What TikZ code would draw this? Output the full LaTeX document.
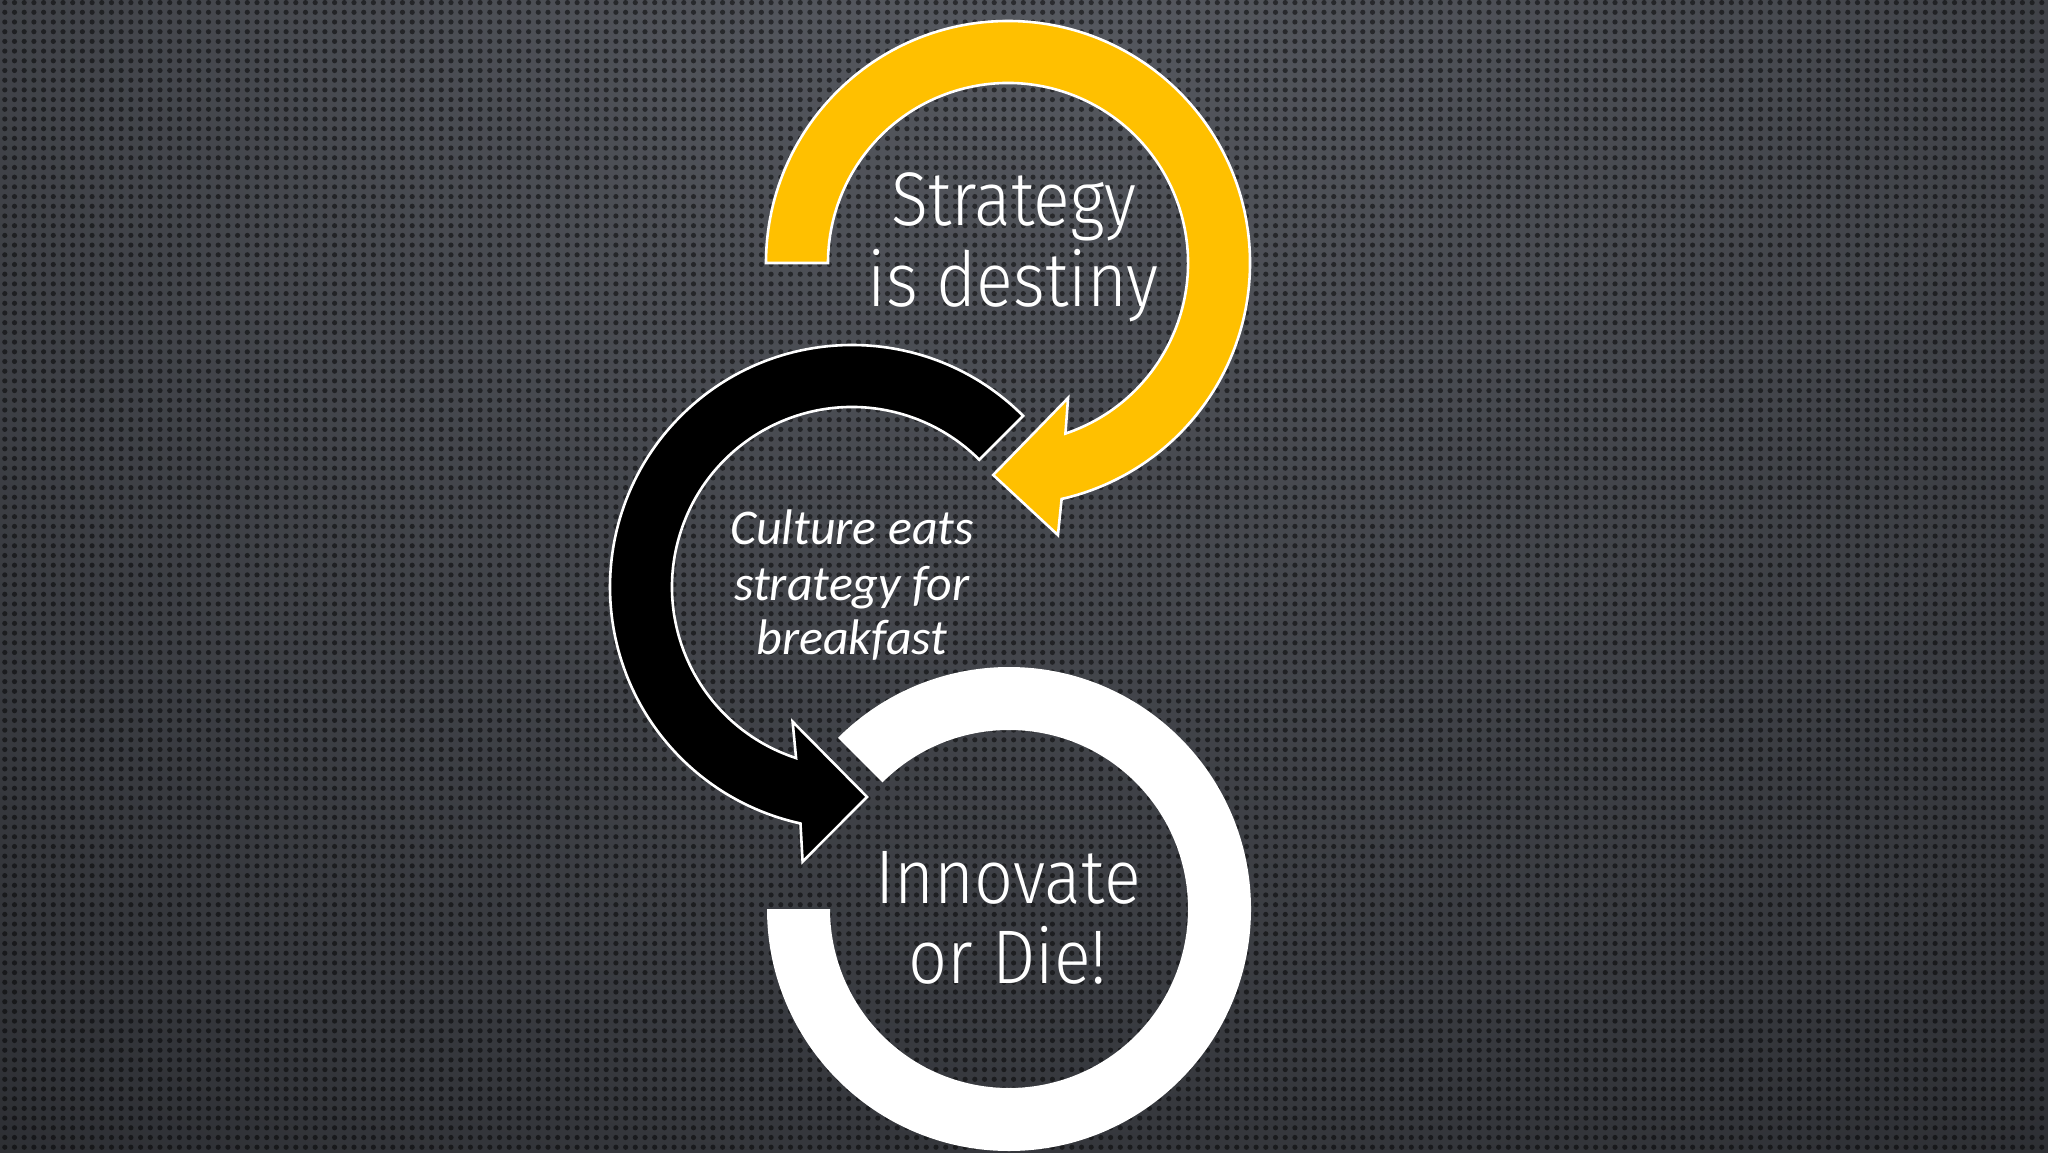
\documentclass[tikz,border=0pt]{standalone}
\usepackage{fontspec}
\setmainfont{Carlito}
\newfontfamily\lightfont[FakeStretch=0.9]{Fira Sans Light}
\newfontfamily\culturefont{Carlito}
\usetikzlibrary{patterns}
\pgfdeclarepatternformonly{bgdots}{\pgfqpoint{-1pt}{-1pt}}{\pgfqpoint{6pt}{6pt}}{\pgfqpoint{4.85pt}{4.85pt}}{\pgfpathcircle{\pgfqpoint{2.4pt}{2.4pt}}{1.3pt}\pgfusepath{fill}}
\definecolor{gold}{RGB}{255,192,0}
\definecolor{bgtop}{RGB}{88,91,98}
\definecolor{bgbot}{RGB}{18,19,22}
\tikzset{
  bigtext/.style={text=white, inner sep=0pt, anchor=base, font=\lightfont\fontsize{38}{40}\selectfont},
  culturetext/.style={text=white, inner sep=0pt, anchor=base, font=\culturefont\itshape\fontsize{25}{27}\selectfont},
  arrowband/.style={draw=white, line width=1.3pt, line join=miter},
}
\begin{document}
\begin{tikzpicture}[x=0.5pt,y=0.5pt]
\useasboundingbox (0,0) rectangle (2048,1152);
\begin{scope}
  \clip (0,0) rectangle (2048,1152);
  \fill[bgbot] (0,0) rectangle (2048,1152);
  \shade[inner color=bgtop, outer color=bgbot] (1024,1250) ellipse (3000 and 2500);
  \fill[pattern=bgdots, pattern color=black, fill opacity=0.5] (0,0) rectangle (2048,1152);
\end{scope}

% centres
\coordinate (yc) at (1008,889);
\coordinate (bc) at (852,565);
\coordinate (wc) at (1009,243);

% white ring
\fill[white] ([shift={(180:242)}]wc) arc[start angle=180, end angle=495, radius=242]
  -- ([shift={(135:179)}]wc) arc[start angle=495, end angle=180, radius=179] -- cycle;

% black arrow
\draw[arrowband, fill=black] ([shift={(45:242)}]bc) arc[start angle=45, end angle=257.7, radius=242]
  -- ([shift={(259.8:279)}]bc) -- ([shift={(274.1:210.5)}]bc) -- ([shift={(246.2:147.2)}]bc)
  -- ([shift={(251.9:180)}]bc) arc[start angle=251.9, end angle=45, radius=180] -- cycle;

% yellow arrow
\draw[arrowband, fill=gold] ([shift={(180:242)}]yc) arc[start angle=180, end angle=-77.2, radius=242]
  -- ([shift={(-79.6:276.6)}]yc) -- ([shift={(-94:212.5)}]yc) -- ([shift={(-66:147.7)}]yc)
  -- ([shift={(-71.4:180)}]yc) arc[start angle=-71.4, end angle=180, radius=180] -- cycle;

% texts
\node[bigtext] (s1) at (1014,926) {Strategy};
\node[bigtext] (s2) at (1013,845) {is destiny};
\node[culturetext] (c1) at (852,607) {Culture eats};
\node[culturetext] (c2) at (852,552) {strategy for};
\node[culturetext] (c3) at (852,497) {breakfast};
\node[bigtext] (i1) at (1008,249) {Innovate};
\node[bigtext] (i2) at (1008,169) {or Die!};
\end{tikzpicture}
\end{document}
